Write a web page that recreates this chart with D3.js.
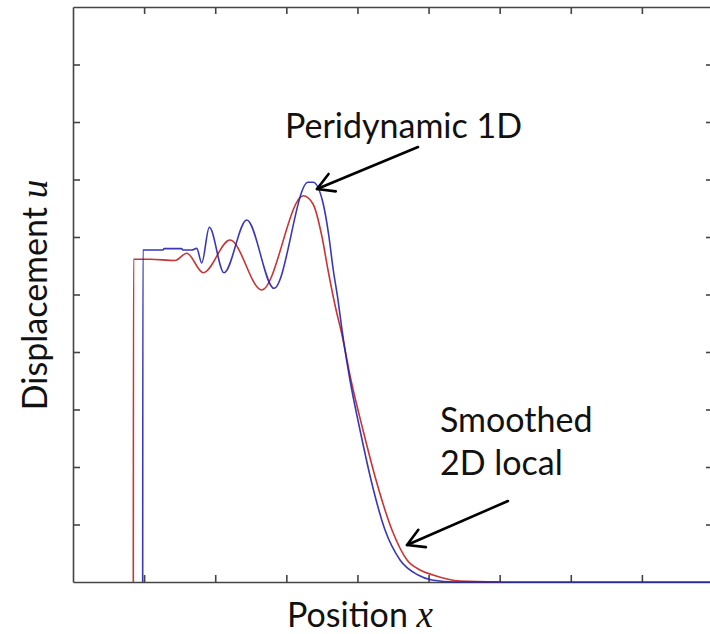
<!DOCTYPE html>
<html>
<head>
<meta charset="utf-8">
<script src="https://cdn.jsdelivr.net/npm/d3@7"></script>
<style>
  html, body { margin: 0; padding: 0; background: #fff; }
  svg { display: block; }
</style>
</head>
<body>
<svg id="chart" width="710" height="634"></svg>
<script>
// ---- data (data units: x 0..9, y 0..10) ----
const xTicks = [1, 2, 3, 4, 5, 6, 7, 8];
const yTicks = [1, 2, 3, 4, 5, 6, 7, 8, 9];

const peridynamicX = [0.980, 0.983, 1.266, 1.280, 1.529, 1.543, 1.669, 1.740, 1.810, 1.917, 2.123, 2.443, 2.827, 3.305, 3.375, 3.516, 3.600, 3.656, 3.727, 3.783, 3.895, 4.036, 4.191, 4.388, 4.599, 4.852, 5.048, 5.372, 9.000];
const peridynamicY = [0.000, 5.774, 5.774, 5.797, 5.797, 5.774, 5.774, 5.803, 5.548, 6.169, 5.379, 6.296, 5.108, 6.951, 6.951, 6.591, 6.000, 5.461, 4.904, 4.383, 3.513, 2.643, 1.774, 0.904, 0.383, 0.122, 0.035, 0.000, 0.000];

const smoothedX = [0.848, 0.851, 1.083, 1.434, 1.599, 1.832, 2.208, 2.654, 3.239, 3.375, 3.502, 3.586, 3.684, 3.783, 3.909, 4.078, 4.261, 4.486, 4.697, 4.880, 5.063, 5.442, 6.005];
const smoothedY = [0.000, 5.612, 5.612, 5.591, 5.717, 5.379, 5.948, 5.078, 6.718, 6.574, 6.000, 5.426, 4.817, 4.296, 3.513, 2.643, 1.774, 0.904, 0.383, 0.209, 0.122, 0.017, 0.000];

// annotations (data units)
const annoLabels = ["Peridynamic 1D", "Smoothed", "2D local"];
const annoLabelX = [2.981, 5.161, 5.161];
const annoLabelY = [7.722, 2.609, 1.861];
const arrowFromX = [4.852, 6.117];
const arrowFromY = [7.565, 1.409];
const arrowToX = [3.431, 4.697];
const arrowToY = [6.835, 0.643];

// ---- layout ----
const svg = d3.select("#chart");
const mLeft = 73, mRight = 713, mTop = 7, mBottom = 582;
const x = d3.scaleLinear().domain([0, 9]).range([mLeft, mRight]);
const y = d3.scaleLinear().domain([0, 10]).range([mBottom, mTop]);

const axisColor = "#444";
const tickLen = 7;

function styleAxis(g) {
  g.select(".domain").attr("stroke", axisColor).attr("stroke-width", 1.6);
  g.selectAll(".tick line").attr("stroke", axisColor).attr("stroke-width", 1.6);
  g.selectAll(".tick text").remove();
}

svg.append("g").attr("transform", `translate(0,${mBottom})`)
  .call(d3.axisTop(x).tickValues(xTicks).tickSize(tickLen).tickSizeOuter(0).tickFormat(""))
  .call(styleAxis);
svg.append("g").attr("transform", `translate(0,${mTop})`)
  .call(d3.axisBottom(x).tickValues(xTicks).tickSize(tickLen).tickSizeOuter(0).tickFormat(""))
  .call(styleAxis);
svg.append("g").attr("transform", `translate(${mLeft},0)`)
  .call(d3.axisRight(y).tickValues(yTicks).tickSize(tickLen).tickSizeOuter(0).tickFormat(""))
  .call(styleAxis);
svg.append("g").attr("transform", `translate(${mRight},0)`)
  .call(d3.axisLeft(y).tickValues(yTicks).tickSize(tickLen).tickSizeOuter(0).tickFormat(""))
  .call(styleAxis);

// ---- curves ----
const line = d3.line()
  .x(d => x(d[0]))
  .y(d => y(d[1]))
  .curve(d3.curveMonotoneX);

const smoothed = smoothedX.map((v, i) => [v, smoothedY[i]]);
const peri = peridynamicX.map((v, i) => [v, peridynamicY[i]]);

svg.append("path").datum(smoothed)
  .attr("d", line).attr("fill", "none")
  .attr("stroke", "#c42a2a").attr("stroke-width", 1.6).attr("stroke-opacity", 0.95);
svg.append("path").datum(peri)
  .attr("d", line).attr("fill", "none")
  .attr("stroke", "#2222b0").attr("stroke-width", 1.6).attr("stroke-opacity", 0.9);

// ---- annotations ----
const font = "Lato, 'Open Sans', sans-serif";
const fs = 34;
annoLabels.forEach((t, i) => {
  svg.append("text")
    .attr("x", x(annoLabelX[i])).attr("y", y(annoLabelY[i]))
    .attr("font-family", font).attr("font-size", fs).attr("fill", "#111")
    .text(t);
});

arrowFromX.forEach((fx, i) => {
  const x0 = x(fx), y0 = y(arrowFromY[i]);
  const x1 = x(arrowToX[i]), y1 = y(arrowToY[i]);
  const ang = Math.atan2(y1 - y0, x1 - x0);
  const L = 19, spread = 0.52;
  const g = svg.append("g").attr("stroke", "#000").attr("stroke-width", 2.6)
    .attr("fill", "none").attr("stroke-linecap", "round").attr("stroke-linejoin", "round");
  g.append("line").attr("x1", x0).attr("y1", y0).attr("x2", x1).attr("y2", y1);
  const pts = [
    [x1 - L * Math.cos(ang - spread), y1 - L * Math.sin(ang - spread)],
    [x1, y1],
    [x1 - L * Math.cos(ang + spread), y1 - L * Math.sin(ang + spread)]
  ];
  g.append("path").attr("d", d3.line()(pts));
});

// ---- axis titles ----
const xt = svg.append("text")
  .attr("x", 360).attr("y", 627).attr("text-anchor", "middle")
  .attr("font-family", font).attr("font-size", fs).attr("fill", "#111");
xt.append("tspan").text("Position ");
xt.append("tspan").attr("font-family", "'Liberation Serif', 'DejaVu Serif', serif")
  .attr("font-style", "italic").attr("font-size", fs + 3).text("x");

const yt = svg.append("text")
  .attr("transform", "translate(47,295) rotate(-90)").attr("text-anchor", "middle")
  .attr("font-family", font).attr("font-size", fs).attr("fill", "#111");
yt.append("tspan").text("Displacement ");
yt.append("tspan").attr("font-family", "'Liberation Serif', 'DejaVu Serif', serif")
  .attr("font-style", "italic").attr("font-size", fs + 3).text("u");
</script>
</body>
</html>
